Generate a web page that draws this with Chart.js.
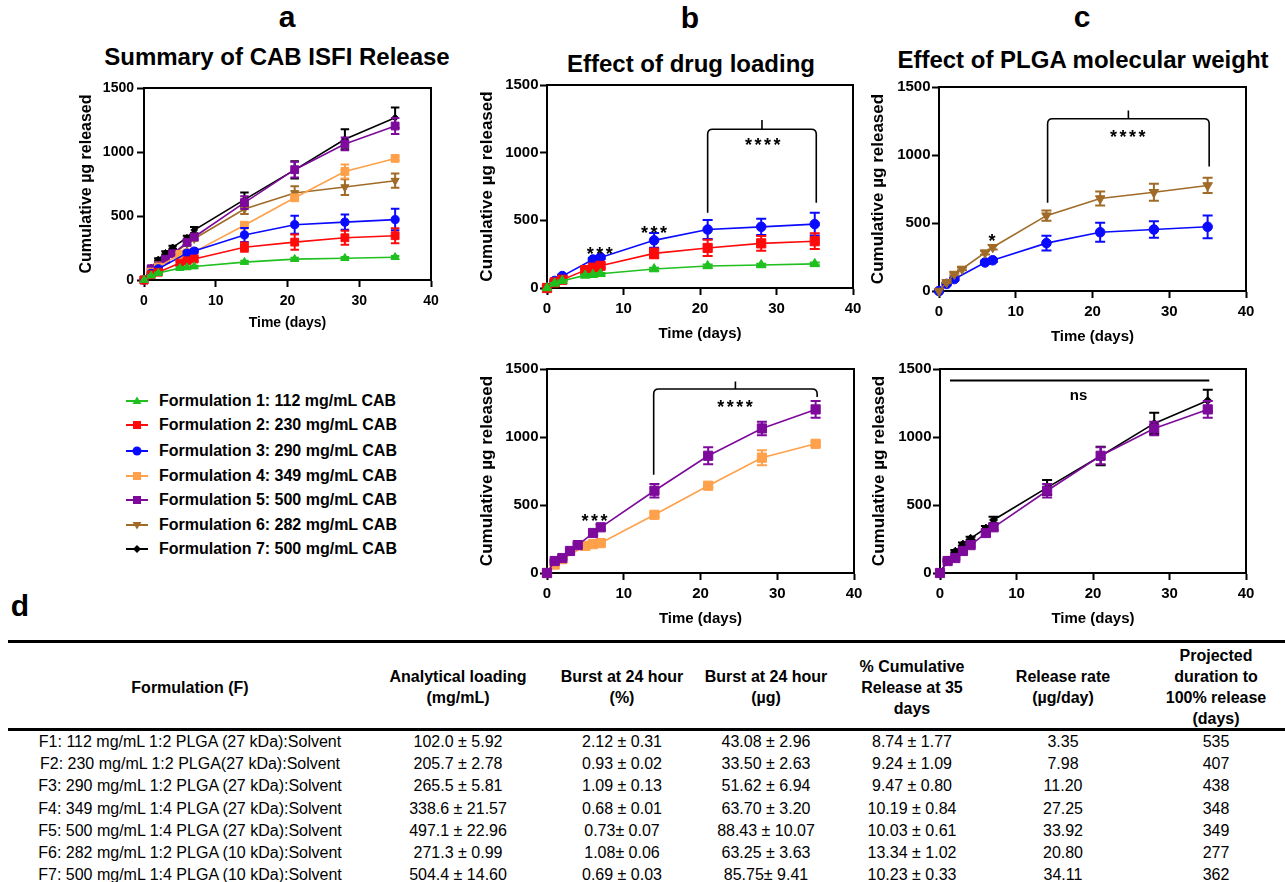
<!DOCTYPE html>
<html>
<head>
<meta charset="utf-8">
<script src="https://cdn.jsdelivr.net/npm/chart.js@4.4.1/dist/chart.umd.min.js"></script>
<style>
  body { margin:0; width:1285px; height:882px; position:relative; overflow:hidden; background:#fff;
         font-family:"Liberation Sans", Arial, Helvetica, sans-serif; color:#000; }
  .abs { position:absolute; white-space:nowrap; line-height:1; }
  .ctr { transform:translate(-50%,-50%); }
  .letter { font-size:30px; font-weight:bold; }
  .ptitle { font-size:24px; font-weight:bold; }
  .lg-row { position:absolute; left:124px; height:20px; display:flex; align-items:center;
            font-weight:bold; font-size:16px; white-space:nowrap; }
  .lg-row svg { margin-right:9px; }
  .rule { position:absolute; left:8px; right:0; height:3px; background:#000; }
  .cell { position:absolute; transform:translate(-50%,-50%); text-align:center; white-space:nowrap;
          font-size:16px; line-height:21px; }
  .head { font-weight:bold; }
  canvas { position:absolute; }
</style>
</head>
<body>
<div class="abs ctr letter" style="left:287px;top:17px">a</div>
<div class="abs ctr letter" style="left:690px;top:18px">b</div>
<div class="abs ctr letter" style="left:1082px;top:17px">c</div>
<div class="abs ctr letter" style="left:20px;top:606px">d</div>
<div class="abs ctr ptitle" style="left:277px;top:57px">Summary of CAB ISFI Release</div>
<div class="abs ctr ptitle" style="left:691px;top:64px">Effect of drug loading</div>
<div class="abs ctr ptitle" style="left:1083px;top:60px">Effect of PLGA molecular weight</div>
<div id="legend"></div>
<div class="rule" style="top:640px"></div>
<div class="rule" style="top:728px"></div>
<div id="table"></div>

<script>
// --- release data (µg, mean ± SD) ---
const f1Days = [0, 1, 2, 5, 6, 7, 14, 21, 28, 35];
const f1Mean = [0, 34, 54, 93, 98, 105, 140, 163, 170, 178];
const f1Sd   = [0, 3, 4, 6, 6, 6, 10, 10, 10, 10];

const f2Days = [0, 1, 2, 5, 6, 7, 14, 21, 28, 35];
const f2Mean = [0, 41, 61, 132, 150, 164, 256, 296, 330, 346];
const f2Sd   = [0, 5, 6, 16, 16, 16, 36, 60, 55, 58];

const f3Days = [0, 1, 2, 6, 7, 14, 21, 28, 35];
const f3Mean = [0, 52, 88, 210, 226, 352, 432, 452, 472];
const f3Sd   = [0, 6, 9, 12, 12, 55, 70, 60, 84];

const f4Days = [0, 1, 2, 5, 6, 7, 14, 21, 28, 35];
const f4Mean = [0, 62, 102, 200, 212, 220, 428, 642, 848, 950];
const f4Sd   = [0, 5, 8, 12, 12, 12, 16, 16, 55, 16];

const f5Days = [0, 1, 2, 3, 4, 6, 7, 14, 21, 28, 35];
const f5Mean = [0, 88, 110, 162, 205, 294, 336, 605, 862, 1063, 1203];
const f5Sd   = [0, 8, 9, 10, 12, 18, 20, 50, 62, 50, 62];

const f6Days = [0, 1, 2, 3, 6, 7, 14, 21, 28, 35];
const f6Mean = [0, 64, 125, 162, 282, 322, 554, 680, 726, 776];
const f6Sd   = [0, 6, 9, 10, 14, 16, 38, 52, 62, 56];

const f7Days = [0, 1, 2, 3, 4, 6, 7, 14, 21, 28, 35];
const f7Mean = [0, 96, 160, 212, 255, 330, 390, 628, 860, 1100, 1268];
const f7Sd   = [0, 8, 10, 12, 12, 16, 24, 55, 68, 78, 80];

const names = [
  "Formulation 1: 112 mg/mL CAB", "Formulation 2: 230 mg/mL CAB", "Formulation 3: 290 mg/mL CAB",
  "Formulation 4: 349 mg/mL CAB", "Formulation 5: 500 mg/mL CAB", "Formulation 6: 282 mg/mL CAB",
  "Formulation 7: 500 mg/mL CAB"
];
const xTicks = [0, 10, 20, 30, 40];
const yTicks = [0, 500, 1000, 1500];

// --- table d ---
const tHead = [["Formulation (F)"], ["Analytical loading", "(mg/mL)"], ["Burst at 24 hour", "(%)"],
  ["Burst at 24 hour", "(µg)"], ["% Cumulative", "Release at 35", "days"], ["Release rate", "(µg/day)"],
  ["Projected", "duration to", "100% release", "(days)"]];
const tForm = ["F1: 112 mg/mL 1:2 PLGA (27 kDa):Solvent", "F2: 230 mg/mL 1:2 PLGA(27 kDa):Solvent",
  "F3: 290 mg/mL 1:2 PLGA (27 kDa):Solvent", "F4: 349 mg/mL 1:4 PLGA (27 kDa):Solvent",
  "F5: 500 mg/mL 1:4 PLGA (27 kDa):Solvent", "F6: 282 mg/mL 1:2 PLGA (10 kDa):Solvent",
  "F7: 500 mg/mL 1:4 PLGA (10 kDa):Solvent"];
const tLoading = ["102.0  ± 5.92", "205.7 ± 2.78", "265.5 ± 5.81", "338.6 ± 21.57", "497.1 ± 22.96", "271.3 ± 0.99", "504.4 ± 14.60"];
const tBurstPct = ["2.12 ± 0.31", "0.93 ± 0.02", "1.09 ± 0.13", "0.68 ± 0.01", "0.73± 0.07", "1.08± 0.06", "0.69 ± 0.03"];
const tBurstUg = ["43.08 ± 2.96", "33.50 ± 2.63", "51.62 ± 6.94", "63.70 ± 3.20", "88.43 ± 10.07", "63.25 ± 3.63", "85.75± 9.41"];
const tCum35 = ["8.74 ± 1.77", "9.24 ± 1.09", "9.47 ± 0.80", "10.19 ± 0.84", "10.03 ± 0.61", "13.34 ± 1.02", "10.23 ± 0.33"];
const tRate = ["3.35", "7.98", "11.20", "27.25", "33.92", "20.80", "34.11"];
const tDuration = ["535", "407", "438", "348", "349", "277", "362"];

// styles
const colors = ["#1fc01f", "#ff0a0a", "#0a0aff", "#ffa04a", "#7d0a9b", "#9f6b27", "#000000"];
const shapes = [
  { style: "triangle", rot: 0, r: 5.5 },
  { style: "rect", rot: 0, r: 6.5 },
  { style: "circle", rot: 0, r: 4.8 },
  { style: "rect", rot: 0, r: 6.5 },
  { style: "rect", rot: 0, r: 6.5 },
  { style: "triangle", rot: 180, r: 5.5 },
  { style: "rectRot", rot: 0, r: 4.0 }
];

const allDays = [f1Days, f2Days, f3Days, f4Days, f5Days, f6Days, f7Days];
const allMean = [f1Mean, f2Mean, f3Mean, f4Mean, f5Mean, f6Mean, f7Mean];
const allSd = [f1Sd, f2Sd, f3Sd, f4Sd, f5Sd, f6Sd, f7Sd];

Chart.defaults.font.family = '"Liberation Sans", Arial, Helvetica, sans-serif';
Chart.defaults.color = "#000";

// significance marks (data units)
const marksB1 = {
  brackets: [{ x1: 21, x2: 35.2, y: 1173, tick: 1242, left: 556, right: 630 }],
  labels: [{ x: 28.2, y: 1088, text: "****" }, { x: 6.9, y: 283, text: "***" }, { x: 14, y: 437, text: "***" }]
};
const marksC1 = {
  brackets: [{ x1: 14.15, x2: 35.2, y: 1267, tick: 1328, left: 648, right: 915 }],
  labels: [{ x: 24.6, y: 1166, text: "****" }, { x: 6.9, y: 400, text: "*" }]
};
const marksB2 = {
  brackets: [{ x1: 13.9, x2: 35.2, y: 1353, tick: 1409, left: 723, right: 1294 }],
  labels: [{ x: 24.5, y: 1254, text: "****" }, { x: 6.2, y: 416, text: "***" }]
};
const marksC2 = {
  lines: [{ x1: 1.3, x2: 35.2, y: 1416 }],
  labels: [{ x: 18.1, y: 1304, text: "ns" }]
};

// === plugins ===
const errorBars = {
  id: "errorBars",
  beforeDatasetDraw(chart, args, opts) {
    const ds = chart.data.datasets[args.index];
    if (!ds.errors) return;
    const ys = chart.scales.y, ctx = chart.ctx, cap = opts.cap || 5;
    ctx.save();
    ctx.strokeStyle = ds.borderColor;
    ctx.lineWidth = 2;
    args.meta.data.forEach((pt, i) => {
      const e = ds.errors[i];
      if (!e) return;
      const v = ds.data[i].y;
      const top = ys.getPixelForValue(v + e), bot = ys.getPixelForValue(Math.max(v - e, 0));
      ctx.beginPath();
      ctx.moveTo(pt.x, top); ctx.lineTo(pt.x, bot);
      ctx.moveTo(pt.x - cap, top); ctx.lineTo(pt.x + cap, top);
      ctx.moveTo(pt.x - cap, bot); ctx.lineTo(pt.x + cap, bot);
      ctx.stroke();
    });
    ctx.restore();
  }
};

const frameAndMarks = {
  id: "sigMarks",
  afterDatasetsDraw(chart, args, o) {
    const { x, y } = chart.scales, ctx = chart.ctx, a = chart.chartArea;
    ctx.save();
    ctx.strokeStyle = "#000";
    ctx.lineWidth = 2;
    ctx.beginPath();
    ctx.moveTo(a.left, a.top); ctx.lineTo(a.right, a.top); ctx.lineTo(a.right, a.bottom);
    ctx.stroke();

    ctx.lineWidth = 1.6;
    (o.brackets || []).forEach(b => {
      const x1 = x.getPixelForValue(b.x1), x2 = x.getPixelForValue(b.x2);
      const yb = y.getPixelForValue(b.y), yt = y.getPixelForValue(b.tick);
      const l1 = y.getPixelForValue(b.left), l2 = y.getPixelForValue(b.right);
      const xm = (x1 + x2) / 2, r = 5;
      ctx.beginPath();
      ctx.moveTo(x1, l1); ctx.lineTo(x1, yb + r); ctx.quadraticCurveTo(x1, yb, x1 + r, yb);
      ctx.lineTo(x2 - r, yb); ctx.quadraticCurveTo(x2, yb, x2, yb + r); ctx.lineTo(x2, l2);
      ctx.moveTo(xm, yb); ctx.lineTo(xm, yt);
      ctx.stroke();
    });
    ctx.lineWidth = 2;
    (o.lines || []).forEach(l => {
      const yy = y.getPixelForValue(l.y);
      ctx.beginPath();
      ctx.moveTo(x.getPixelForValue(l.x1), yy); ctx.lineTo(x.getPixelForValue(l.x2), yy);
      ctx.stroke();
    });
    ctx.fillStyle = "#000";
    ctx.textAlign = "center";
    ctx.textBaseline = "alphabetic";
    (o.labels || []).forEach(l => {
      const stars = l.text.includes("*");
      const size = stars ? 18 : 15;
      ctx.font = "bold " + size + "px " + Chart.defaults.font.family;
      ctx.letterSpacing = stars ? "2.5px" : "0px";
      const dy = stars ? 0.57 * size : 0.26 * size;
      ctx.fillText(l.text, x.getPixelForValue(l.x) + (stars ? 1.2 : 0), y.getPixelForValue(l.y) + dy);
    });
    ctx.restore();
  }
};

// === panels ===
const panels = [
  { L: 144, T: 88, R: 431, B: 280, show: [0, 1, 2, 3, 4, 5, 6], k: 0.85, tick: 14, yt: 16, xt: 14, ytX: 57, xtY: 43, yPad: 3, marks: {} },
  { L: 547, T: 85, R: 853, B: 288, show: [0, 1, 2], k: 1, tick: 15, yt: 17, xt: 15, ytX: 60, xtY: 46, yPad: 1.5, marks: marksB1 },
  { L: 939, T: 87, R: 1246, B: 291, show: [5, 2], k: 1, tick: 15, yt: 17, xt: 15, ytX: 61, xtY: 46, yPad: 1.5, marks: marksC1 },
  { L: 547, T: 369, R: 854, B: 573, show: [4, 3], k: 1, tick: 15, yt: 17, xt: 15, ytX: 60, xtY: 46, yPad: 1.5, marks: marksB2 },
  { L: 940, T: 369, R: 1246, B: 573, show: [4, 6], k: 1, tick: 15, yt: 17, xt: 15, ytX: 61, xtY: 46, yPad: 1.5, marks: marksC2 }
];

const AXW = 72, AXH = 56, PADT = 12, PADR = 22, TL = 7;

panels.forEach(p => {
  const cv = document.createElement("canvas");
  cv.width = p.R - p.L + AXW + PADR;
  cv.height = p.B - p.T + PADT + AXH;
  cv.style.left = (p.L - AXW) + "px";
  cv.style.top = (p.T - PADT) + "px";
  document.body.appendChild(cv);

  const datasets = p.show.map(i => ({
    label: names[i],
    data: allDays[i].map((d, j) => ({ x: d, y: allMean[i][j] })),
    errors: allSd[i],
    borderColor: colors[i],
    backgroundColor: colors[i],
    borderWidth: 1.6,
    pointStyle: shapes[i].style,
    pointRotation: shapes[i].rot,
    pointRadius: shapes[i].r * p.k,
    pointBorderWidth: 1,
    tension: 0,
    clip: false
  }));

  const ytLh = p.yt * 1.2, xtLh = p.xt * 1.2, tickLh = p.tick * 1.2;

  new Chart(cv, {
    type: "line",
    data: { datasets },
    options: {
      responsive: false,
      animation: false,
      events: [],
      layout: { padding: { top: PADT, right: PADR, left: 0, bottom: 0 } },
      plugins: {
        legend: { display: false },
        tooltip: { enabled: false },
        errorBars: { cap: 5 * p.k },
        sigMarks: p.marks
      },
      scales: {
        x: {
          type: "linear", min: xTicks[0], max: xTicks[xTicks.length - 1],
          afterBuildTicks: s => { s.ticks = xTicks.map(v => ({ value: v })); },
          ticks: { color: "#000", font: { size: p.tick, weight: "bold" }, padding: 21 - TL - tickLh / 2,
                   maxRotation: 0, callback: v => String(v) },
          grid: { drawOnChartArea: false, drawTicks: true, tickLength: TL, tickWidth: 2, tickColor: "#000" },
          border: { display: true, color: "#000", width: 2 },
          title: { display: true, text: "Time (days)", color: "#000", font: { size: p.xt, weight: "bold" },
                   padding: { top: 0, bottom: AXH - xtLh / 2 - p.xtY } },
          afterFit: s => { s.height = AXH; }
        },
        y: {
          min: yTicks[0], max: yTicks[yTicks.length - 1],
          afterBuildTicks: s => { s.ticks = yTicks.map(v => ({ value: v })); },
          ticks: { color: "#000", font: { size: p.tick, weight: "bold" }, padding: p.yPad,
                   callback: v => String(v) },
          grid: { drawOnChartArea: false, drawTicks: true, tickLength: TL, tickWidth: 2, tickColor: "#000" },
          border: { display: true, color: "#000", width: 2 },
          title: { display: true, text: "Cumulative µg released", color: "#000", font: { size: p.yt, weight: "bold" },
                   padding: { top: AXW - p.ytX - ytLh / 2, bottom: 0 } },
          afterFit: s => { s.width = AXW; }
        }
      }
    },
    plugins: [errorBars, frameAndMarks]
  });
});

// === legend ===
function markerSvg(i) {
  const c = colors[i], s = shapes[i].style;
  let m = "";
  if (s === "circle") m = `<circle cx="13" cy="8" r="4.5" fill="${c}"/>`;
  else if (s === "rect") m = `<rect x="9" y="4" width="8" height="8" fill="${c}"/>`;
  else if (s === "rectRot") m = `<polygon points="13,4 17,8 13,12 9,8" fill="${c}"/>`;
  else if (shapes[i].rot === 180) m = `<polygon points="8.5,5 17.5,5 13,12.5" fill="${c}"/>`;
  else m = `<polygon points="13,3.5 17.5,11 8.5,11" fill="${c}"/>`;
  return `<svg width="26" height="16"><line x1="2" y1="8" x2="24" y2="8" stroke="${c}" stroke-width="2"/>${m}</svg>`;
}
const lgY = [401, 425, 451, 476, 500, 525, 549];
document.getElementById("legend").innerHTML = names.map((n, i) =>
  `<div class="lg-row" style="top:${lgY[i] - 10}px">${markerSvg(i)}<span>${n}</span></div>`).join("");

// === table ===
const colX = [190, 458, 622, 766, 912, 1063, 1216];
const cols = [tForm, tLoading, tBurstPct, tBurstUg, tCum35, tRate, tDuration];
let html = "";
tHead.forEach((h, c) => {
  html += `<div class="cell head" style="left:${colX[c]}px;top:687px">${h.join("<br>")}</div>`;
});
cols.forEach((col, c) => {
  col.forEach((v, r) => {
    html += `<div class="cell" style="left:${colX[c]}px;top:${741 + r * 22.2}px">${v}</div>`;
  });
});
document.getElementById("table").innerHTML = html;
</script>
</body>
</html>
